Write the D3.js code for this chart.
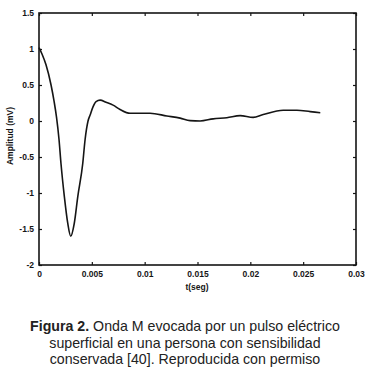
<!DOCTYPE html>
<html>
<head>
<meta charset="utf-8">
<script src="https://cdn.jsdelivr.net/npm/d3@7"></script>
<style>
  html, body { margin: 0; padding: 0; background: #fff; }
  svg { display: block; }
</style>
</head>
<body>
<script>
// ---- data ----
const timeSec = [0, 0.000284, 0.000663, 0.00114, 0.00142, 0.00166, 0.00189, 0.00208, 0.00240,
  0.00272, 0.00300, 0.00334, 0.00367, 0.00414, 0.00436, 0.00464, 0.00483, 0.00512,
  0.00540, 0.00578, 0.00635, 0.00701, 0.00767, 0.00862, 0.01051, 0.01210, 0.01336, 0.01430,
  0.01525, 0.01648, 0.01778, 0.01904, 0.02027, 0.02122, 0.02311, 0.02441, 0.02567, 0.02662];
const amplitudeMV = [1.02, 0.93, 0.78, 0.50, 0.28, 0.05, -0.25, -0.59, -1.05,
  -1.42, -1.60, -1.42, -1.05, -0.59, -0.26, 0.0, 0.08, 0.20,
  0.27, 0.29, 0.26, 0.22, 0.16, 0.107, 0.107, 0.07, 0.04, 0.005,
  0.0, 0.03, 0.045, 0.074, 0.05, 0.09, 0.15, 0.15, 0.13, 0.115];
const xTicks = [0, 0.005, 0.01, 0.015, 0.02, 0.025, 0.03];
const xTickLabels = ["0", "0.005", "0.01", "0.015", "0.02", "0.025", "0.03"];
const yTicks = [1.5, 1, 0.5, 0, -0.5, -1, -1.5, -2];
const yTickLabels = ["1.5", "1", "0.5", "0", "-0.5", "-1", "-1.5", "-2"];
const xTitle = "t(seg)";
const yTitle = "Amplitud (mV)";
const captionLines = [
  [{t: "Figura 2.", b: true}, {t: " Onda M evocada por un pulso eléctrico", b: false}],
  [{t: "superficial en una persona con sensibilidad", b: false}],
  [{t: "conservada [40]. Reproducida con permiso", b: false}]
];

// ---- layout ----
const W = 371, H = 375;
const box = {left: 39, right: 356, top: 13, bottom: 265};
const ink = "#151515";

const svg = d3.select("body").append("svg").attr("width", W).attr("height", H);

const x = d3.scaleLinear().domain([0, 0.03]).range([box.left, box.right]);
const y = d3.scaleLinear().domain([-2, 1.5]).range([box.bottom, box.top]);

const fontTick = "'Liberation Sans', Arial, sans-serif";

function styleAxis(g) {
  g.select(".domain").remove();
  g.selectAll(".tick line").attr("stroke", ink).attr("stroke-width", 1.2);
  g.selectAll(".tick text").attr("fill", ink).attr("font-family", fontTick)
    .attr("font-size", 8.5).attr("font-weight", "bold");
}

// bottom axis (inward ticks)
svg.append("g").attr("transform", `translate(0,${box.bottom})`)
  .call(d3.axisBottom(x).tickValues(xTicks).tickFormat((d, i) => xTickLabels[i])
    .tickSizeInner(-3).tickSizeOuter(0).tickPadding(6))
  .call(styleAxis);
// top axis ticks
svg.append("g").attr("transform", `translate(0,${box.top})`)
  .call(d3.axisTop(x).tickValues(xTicks).tickFormat("").tickSizeInner(-3).tickSizeOuter(0))
  .call(styleAxis);
// left axis
svg.append("g").attr("transform", `translate(${box.left},0)`)
  .call(d3.axisLeft(y).tickValues(yTicks).tickFormat((d, i) => yTickLabels[i])
    .tickSizeInner(-3).tickSizeOuter(0).tickPadding(5))
  .call(styleAxis);
// right axis ticks
svg.append("g").attr("transform", `translate(${box.right},0)`)
  .call(d3.axisRight(y).tickValues(yTicks).tickFormat("").tickSizeInner(-3).tickSizeOuter(0))
  .call(styleAxis);

// frame
svg.append("rect")
  .attr("x", box.left).attr("y", box.top)
  .attr("width", box.right - box.left).attr("height", box.bottom - box.top)
  .attr("fill", "none").attr("stroke", ink).attr("stroke-width", 1.6);

// curve
const data = timeSec.map((t, i) => [t, amplitudeMV[i]]);
svg.append("path")
  .datum(data)
  .attr("fill", "none")
  .attr("stroke", ink)
  .attr("stroke-width", 1.6)
  .attr("stroke-linejoin", "round")
  .attr("d", d3.line().x(d => x(d[0])).y(d => y(d[1])).curve(d3.curveMonotoneX));

// axis titles
svg.append("text")
  .attr("x", 197).attr("y", 290)
  .attr("text-anchor", "middle")
  .attr("font-family", fontTick).attr("font-size", 8.5).attr("font-weight", "bold")
  .attr("fill", ink).text(xTitle);

svg.append("text")
  .attr("transform", "translate(13,136) rotate(-90)")
  .attr("text-anchor", "middle")
  .attr("font-family", fontTick).attr("font-size", 8.5).attr("font-weight", "bold")
  .attr("fill", ink).text(yTitle);

// caption
const cap = svg.append("g");
captionLines.forEach((line, i) => {
  const txt = cap.append("text")
    .attr("x", 185).attr("y", 331 + i * 16.5)
    .attr("text-anchor", "middle")
    .attr("font-family", "'Liberation Sans', Arial, sans-serif")
    .attr("font-size", 14.2)
    .attr("fill", "#222");
  line.forEach(seg => {
    txt.append("tspan").attr("font-weight", seg.b ? "bold" : "normal").text(seg.t);
  });
});
</script>
</body>
</html>
